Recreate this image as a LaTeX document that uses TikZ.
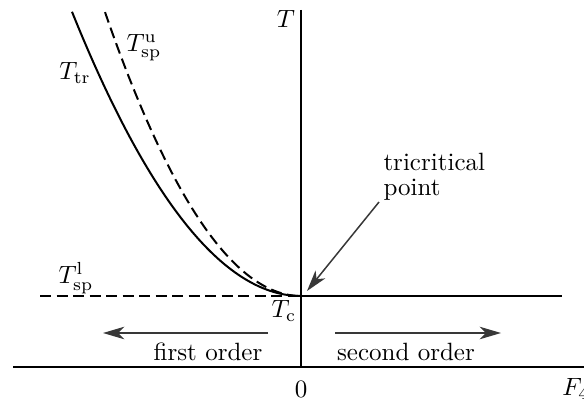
\documentclass[tikz,border=0pt]{standalone}
\usetikzlibrary{arrows.meta}
\begin{document}
\begin{tikzpicture}[x=0.4pt,y=-0.4pt,
  axis/.style={line width=0.8pt,black},
  curve/.style={line width=0.8pt,black},
  dashcurve/.style={line width=0.8pt,black,dash pattern=on 4.4pt off 2.2pt},
  pointer/.style={line width=0.6pt,black!78,-{Stealth[length=8.5pt,width=5pt,inset=2.4pt]}},
  lbl/.style={inner sep=0pt,font=\fontsize{10}{12}\selectfont}]
\useasboundingbox (0,0) rectangle (584,405);
\clip (0,0) rectangle (584,405);
% coordinates
\coordinate (tc) at (301,296);
\coordinate (ytop) at (301,10);
\coordinate (ybot) at (301,367);
\coordinate (xl) at (13,367);
\coordinate (xr) at (590,367);
\coordinate (dl) at (40,296);
\coordinate (sr) at (562,296);
% axes
\draw[axis] (ytop) -- (ybot);
\draw[axis] (xl) -- (xr);
% lines through Tc
\draw[dashcurve] (dl) -- (tc);
\draw[axis] (tc) -- (sr);
% curves
\draw[curve] plot[domain=72:301,samples=80] (\x,{296-0.542*((\x-301)/10)^2});
\draw[dashcurve] plot[domain=105:301,samples=80] (\x,{296-0.739*((\x-301)/10)^2});
% labels
\node[lbl] (T) at (286,19) {$T$};
\node[lbl] (F) at (576,389) {$F_4$};
\node[lbl] (zero) at (301,389) {$0$};
\node[lbl] (Ttr) at (75,73) {$T_{\mathrm{tr}}$};
\node[lbl] (Tspu) at (144,48) {$T_{\mathrm{sp}}^{\mathrm{u}}$};
\node[lbl] (Tspl) at (76,278) {$T_{\mathrm{sp}}^{\mathrm{l}}$};
\node[lbl] (Tc) at (284,311) {$T_{\mathrm{c}}$};
\node[lbl,align=left,anchor=north west] (tri) at (383,153) {tricritical\\[-2.2pt]point};
\node[lbl] (fo) at (208,352) {first order};
\node[lbl] (so) at (406,352) {second order};
% arrows
\coordinate (foa) at (268,333);
\coordinate (fob) at (103,333);
\coordinate (soa) at (335,333);
\coordinate (sob) at (501,333);
\coordinate (tria) at (379,202);
\coordinate (trib) at (307,291);
\draw[pointer] (foa) -- (fob);
\draw[pointer] (soa) -- (sob);
\draw[pointer] (tria) -- (trib);
\end{tikzpicture}
\end{document}
